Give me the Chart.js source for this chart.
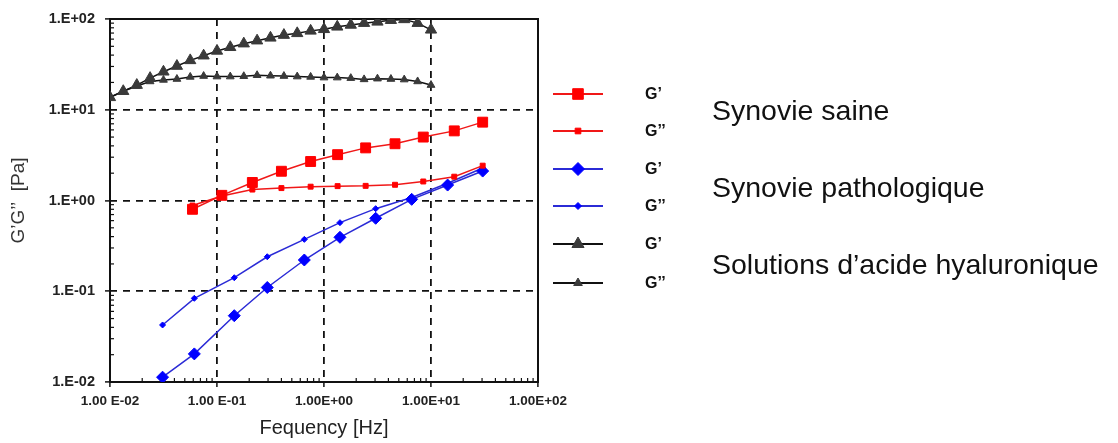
<!DOCTYPE html>
<html>
<head>
<meta charset="utf-8">
<script src="https://cdn.jsdelivr.net/npm/chart.js@4.4.1/dist/chart.umd.min.js"></script>
<style>
  body { margin: 0; background: #fff; }
  #wrap { width: 1118px; height: 443px; position: relative; }
</style>
</head>
<body>
<div id="wrap"><canvas id="myChart"></canvas></div>
<script>
// values: frequency in Hz, moduli in Pa

// synovie saine
const healthyFreq = [0.059, 0.111, 0.214, 0.40, 0.75, 1.34, 2.45, 4.61, 8.47, 16.5, 30.4];
const healthyG1 = [0.80, 1.14, 1.58, 2.10, 2.69, 3.20, 3.80, 4.22, 5.00, 5.85, 7.30];
const healthyG2 = [0.88, 1.12, 1.32, 1.37, 1.42, 1.44, 1.45, 1.49, 1.62, 1.83, 2.42];

// synovie pathologique
const pathoFreq = [0.031, 0.0614, 0.145, 0.295, 0.655, 1.41, 3.04, 6.6, 14.3, 30.4];
const pathoG1 = [0.0113, 0.0204, 0.0538, 0.110, 0.221, 0.393, 0.637, 1.03, 1.48, 2.11];
const pathoG2 = [0.0425, 0.0836, 0.141, 0.240, 0.373, 0.570, 0.813, 1.08, 1.55, 2.28];

// solutions d'acide hyaluronique
const haFreq = [0.0100, 0.0133, 0.0178, 0.0237, 0.0316, 0.0422, 0.0562, 0.0750, 0.100, 0.133,
  0.178, 0.237, 0.316, 0.422, 0.562, 0.750, 1.00, 1.33, 1.78, 2.37, 3.16, 4.22, 5.62, 7.50, 10.0];
const haG1 = [13.7, 16.0, 18.7, 22.3, 26.2, 30.3, 35.0, 39.4, 44.5, 48.8,
  53.5, 57.7, 62.0, 66.5, 69.5, 74.0, 77.0, 82.0, 86.0, 90.0, 93.0, 97.0, 99.0, 90.0, 76.0];
const haG2 = [13.7, 16.0, 18.3, 20.5, 21.3, 21.8, 23.0, 23.5, 23.2, 23.2,
  23.4, 24.0, 23.7, 23.5, 23.2, 23.0, 22.6, 22.6, 22.3, 21.6, 22.0, 21.8, 21.5, 20.5, 18.7];

const seriesNames = ["G’", "G’’", "G’", "G’’", "G’", "G’’"];
const groupNames = ["Synovie saine", "Synovie pathologique", "Solutions d’acide hyaluronique"];

const xTickValues = [0.01, 0.1, 1, 10, 100];
const xTickLabels = ["1.00 E-02", "1.00 E-01", "1.00E+00", "1.00E+01", "1.00E+02"];
const yTickValues = [0.01, 0.1, 1, 10, 100];
const yTickLabels = ["1.E-02", "1.E-01", "1.E+00", "1.E+01", "1.E+02"];

const FONT = "'Liberation Sans', Arial, sans-serif";

function toPoints(xs, ys) {
  return xs.map((x, i) => ({ x: x, y: ys[i] }));
}

function makeSet(name, xs, ys, color, lineColor, style, radius) {
  return {
    label: name,
    data: toPoints(xs, ys),
    showLine: true,
    borderColor: lineColor,
    borderWidth: 1.5,
    backgroundColor: color,
    pointBackgroundColor: color,
    pointBorderColor: color,
    pointBorderWidth: 1,
    pointStyle: style,
    pointRadius: radius,
    tension: 0,
  };
}

const datasets = [
  makeSet(seriesNames[0], healthyFreq, healthyG1, "#ff0000", "#f01818", "rect", 7),
  makeSet(seriesNames[1], healthyFreq, healthyG2, "#ff0000", "#f01818", "rect", 3.5),
  makeSet(seriesNames[2], pathoFreq, pathoG1, "#0000ff", "#2b2bd6", "rectRot", 6),
  makeSet(seriesNames[3], pathoFreq, pathoG2, "#0000ff", "#2b2bd6", "rectRot", 3),
  makeSet(seriesNames[4], haFreq, haG1, "#3a3a3a", "#111111", "triangle", 6.5),
  makeSet(seriesNames[5], haFreq, haG2, "#3a3a3a", "#111111", "triangle", 4.5),
];

// black frame round the plot + small minor ticks on the inside
const framePlugin = {
  id: "frame",
  beforeDatasetsDraw(chart) {
    const ctx = chart.ctx;
    const a = chart.chartArea;
    ctx.save();
    ctx.strokeStyle = "#111";
    ctx.lineWidth = 2;
    ctx.strokeRect(a.left, a.top, a.right - a.left, a.bottom - a.top);

    ctx.lineWidth = 1.2;
    const xs = chart.scales.x;
    const ys = chart.scales.y;
    for (let d = 0; d < xTickValues.length - 1; d++) {
      for (let m = 2; m <= 9; m++) {
        const px = xs.getPixelForValue(xTickValues[d] * m);
        ctx.beginPath();
        ctx.moveTo(px, a.bottom);
        ctx.lineTo(px, a.bottom - 4);
        ctx.stroke();
      }
    }
    for (let d = 0; d < yTickValues.length - 1; d++) {
      for (let m = 2; m <= 9; m++) {
        const py = ys.getPixelForValue(yTickValues[d] * m);
        ctx.beginPath();
        ctx.moveTo(a.left, py);
        ctx.lineTo(a.left + 4, py);
        ctx.stroke();
      }
    }
    ctx.restore();
  },
};

// legend on the right: six marker rows, G'/G'' names, three group names
const legendPlugin = {
  id: "sideLegend",
  afterDraw(chart) {
    const ctx = chart.ctx;
    const rows = [94, 131, 169, 206, 244, 283];
    ctx.save();
    chart.data.datasets.forEach((ds, i) => {
      const y = rows[i];
      ctx.strokeStyle = ds.borderColor;
      ctx.lineWidth = 2;
      ctx.beginPath();
      ctx.moveTo(553, y);
      ctx.lineTo(603, y);
      ctx.stroke();
      ctx.fillStyle = ds.pointBackgroundColor;
      ctx.strokeStyle = ds.pointBorderColor;
      ctx.lineWidth = 1;
      Chart.helpers.drawPoint(ctx, {
        pointStyle: ds.pointStyle,
        radius: ds.pointRadius + 0.5,
        rotation: 0,
        borderWidth: 1,
      }, 578, y);
      ctx.fillStyle = "#111";
      ctx.font = "bold 16px " + FONT;
      ctx.textAlign = "left";
      ctx.textBaseline = "middle";
      ctx.fillText(ds.label, 645, y + 1);
    });
    ctx.fillStyle = "#111";
    ctx.font = "28.5px " + FONT;
    ctx.textBaseline = "middle";
    const groupY = [112, 189, 266];
    groupNames.forEach((g, i) => ctx.fillText(g, 712, groupY[i]));
    ctx.restore();
  },
};

function gridColor(ctx) {
  if (ctx.index === 0 || ctx.index === 4) return "rgba(0,0,0,0)";
  return "#111";
}

const config = {
  type: "scatter",
  data: { datasets: datasets },
  options: {
    responsive: true,
    maintainAspectRatio: false,
    animation: false,
    layout: { padding: { top: 19, right: 580, left: 0, bottom: 0 } },
    plugins: {
      legend: { display: false },
      tooltip: { enabled: false },
    },
    scales: {
      x: {
        type: "logarithmic",
        min: 0.01,
        max: 100,
        afterBuildTicks: (s) => { s.ticks = xTickValues.map((v) => ({ value: v })); },
        afterFit: (s) => { s.height = 61; },
        ticks: {
          autoSkip: false,
          maxRotation: 0,
          padding: 6,
          color: "#222",
          font: { family: FONT, size: 13.5, weight: "bold" },
          callback: (v, i) => xTickLabels[i],
        },
        grid: { color: gridColor, lineWidth: 1.8, tickLength: 5, tickColor: "#111", tickWidth: 1.5 },
        border: { display: false, dash: [7, 6] },
        title: {
          display: true,
          text: "Fequency [Hz]",
          color: "#222",
          font: { family: FONT, size: 20 },
          padding: { top: 0, bottom: 3 },
        },
      },
      y: {
        type: "logarithmic",
        min: 0.01,
        max: 100,
        afterBuildTicks: (s) => { s.ticks = yTickValues.map((v) => ({ value: v })); },
        afterFit: (s) => { s.width = 110; },
        ticks: {
          autoSkip: false,
          padding: 10,
          color: "#222",
          font: { family: FONT, size: 14.5, weight: "bold" },
          callback: (v, i) => yTickLabels[i],
        },
        grid: { color: gridColor, lineWidth: 1.8, tickLength: 5, tickColor: "#111", tickWidth: 1.5 },
        border: { display: false, dash: [7, 6] },
        title: {
          display: true,
          text: "G’G’’  [Pa]",
          color: "#333",
          font: { family: FONT, size: 19 },
          padding: { top: 7, bottom: 0 },
        },
      },
    },
  },
  plugins: [framePlugin, legendPlugin],
};

const myChart = new Chart(document.getElementById("myChart"), config);
</script>
</body>
</html>
